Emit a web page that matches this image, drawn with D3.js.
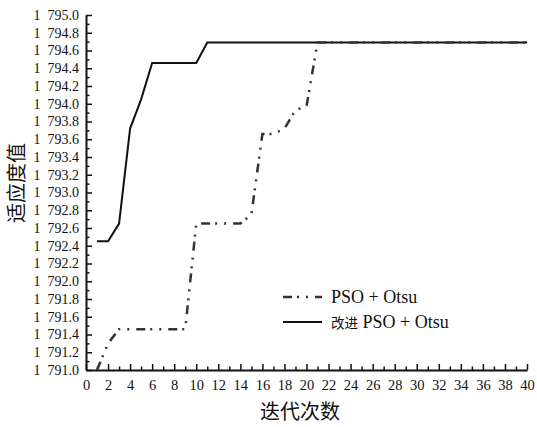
<!DOCTYPE html>
<html>
<head>
<meta charset="utf-8">
<script src="https://cdn.jsdelivr.net/npm/d3@7"></script>
<style>
  body { margin: 0; background: #fff; }
  svg { display: block; }
  text { font-family: "Liberation Serif", "Times New Roman", serif; fill: #111; }
  .cn { font-family: "Noto Sans CJK SC", sans-serif; }
</style>
</head>
<body>
<div id="chart"></div>
<script>
// iterations and fitness values
const psoIter = [1, 2, 3, 9, 10, 14, 15, 16, 17, 18, 19, 20, 21, 40];
const psoFit = [1791.0, 1791.3, 1791.46, 1791.46, 1792.65, 1792.65, 1792.75, 1793.66, 1793.66, 1793.72, 1793.93, 1793.97, 1794.69, 1794.69];

const impIter = [1, 2, 3, 4, 5, 6, 10, 11, 40];
const impFit = [1792.45, 1792.45, 1792.65, 1793.72, 1794.05, 1794.46, 1794.46, 1794.69, 1794.69];

const xTicks = d3.range(0, 41, 2);
const yTicks = d3.range(1791.0, 1795.01, 0.2);
const legendLabels = ["PSO + Otsu", "改进 PSO + Otsu"];

const width = 537,
    height = 427,
    margin = ({ top: 15, right: 10, bottom: 57, left: 86 });

const svg = d3.select("#chart")
    .append("svg")
    .attr("width", width)
    .attr("height", height);

const x = d3.scaleLinear()
    .domain([0, 40])
    .range([margin.left, 527]);

const y = d3.scaleLinear()
    .domain([1791, 1795])
    .range([height - margin.bottom, margin.top]);

// "1 795.0" style, figure space as thousands separator
const fmt = v => d3.format(",.1f")(v).replace(",", "\u2007");

// minor ticks first
svg.append("g")
    .attr("transform", `translate(0,${y(1791)})`)
    .call(d3.axisBottom(x).tickValues(d3.range(1, 40, 2)).tickSize(-3.5).tickFormat(""))
    .call(g => g.select(".domain").remove())
    .call(g => g.selectAll("line").attr("stroke", "#111").attr("stroke-width", 1.5));

svg.append("g")
    .attr("transform", `translate(${x(0)},0)`)
    .call(d3.axisLeft(y).tickValues(d3.range(1791.1, 1795, 0.2)).tickSize(-3.5).tickFormat(""))
    .call(g => g.select(".domain").remove())
    .call(g => g.selectAll("line").attr("stroke", "#111").attr("stroke-width", 1.5));

const xAxis = g => g
    .attr("transform", `translate(0,${y(1791)})`)
    .call(d3.axisBottom(x).tickValues(xTicks).tickSizeInner(-6).tickSizeOuter(0).tickPadding(10))
    .call(g => g.select(".domain").attr("stroke", "#111").attr("stroke-width", 2))
    .call(g => g.selectAll("line").attr("stroke", "#111").attr("stroke-width", 1.5))
    .call(g => g.selectAll("text").attr("font-size", 14.5).attr("fill", "#111"));

const yAxis = g => g
    .attr("transform", `translate(${x(0)},0)`)
    .call(d3.axisLeft(y).tickValues(yTicks).tickFormat(fmt).tickSizeInner(-6).tickSizeOuter(0).tickPadding(7))
    .call(g => g.select(".domain").attr("stroke", "#111").attr("stroke-width", 2))
    .call(g => g.selectAll("line").attr("stroke", "#111").attr("stroke-width", 1.5))
    .call(g => g.selectAll("text").attr("font-size", 14).attr("fill", "#111"));

svg.append("g").call(xAxis);
svg.append("g").call(yAxis);

const line = d3.line()
    .x(d => x(d[0]))
    .y(d => y(d[1]));

const psoData = psoIter.map((d, i) => [d, psoFit[i]]);
const impData = impIter.map((d, i) => [d, impFit[i]]);

svg.append("path")
    .datum(impData)
    .attr("fill", "none")
    .attr("stroke", "#111")
    .attr("stroke-width", 2)
    .attr("d", line);

svg.append("path")
    .datum(psoData)
    .attr("fill", "none")
    .attr("stroke", "#333")
    .attr("stroke-width", 2.5)
    .attr("stroke-dasharray", "9,5,2,7,2,7")
    .attr("d", line);

// legend
const legend = svg.append("g");
const styles = [
    { stroke: "#333", width: 2.5, dash: "9,5,2,7,2,7" },
    { stroke: "#111", width: 2, dash: null }
];
legendLabels.forEach((label, i) => {
    const ly = 297 + i * 25;
    legend.append("line")
        .attr("x1", 283).attr("x2", 322)
        .attr("y1", ly).attr("y2", ly)
        .attr("stroke", styles[i].stroke)
        .attr("stroke-width", styles[i].width)
        .attr("stroke-dasharray", styles[i].dash);
    const t = legend.append("text")
        .attr("x", 331)
        .attr("y", ly + 6)
        .attr("font-size", 18);
    if (i === 1) {
        t.append("tspan").attr("class", "cn").attr("font-size", 13.5).text("改进");
        t.append("tspan").text(" PSO + Otsu");
    } else {
        t.text(label);
    }
});

// axis titles
svg.append("text")
    .attr("class", "cn")
    .attr("x", 300)
    .attr("y", 419)
    .attr("text-anchor", "middle")
    .attr("font-size", 20)
    .text("迭代次数");

svg.append("text")
    .attr("class", "cn")
    .attr("transform", `translate(24,183) rotate(-90)`)
    .attr("text-anchor", "middle")
    .attr("font-size", 20)
    .text("适应度值");
</script>
</body>
</html>
